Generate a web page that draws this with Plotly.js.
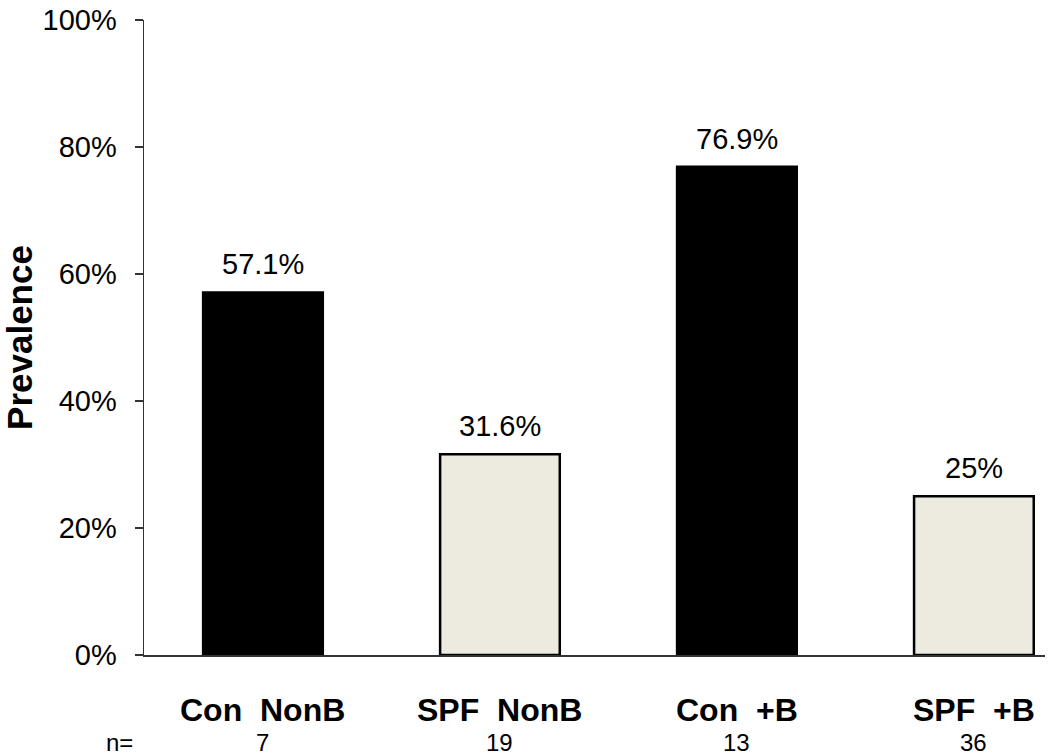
<!DOCTYPE html>
<html>
<head>
<meta charset="utf-8">
<script src="https://cdn.plot.ly/plotly-3.0.1.min.js"></script>
<style>html,body{margin:0;padding:0;background:#fff;}#chart{width:1050px;height:756px;}</style>
</head>
<body>
<div id="chart"></div>
<script>
var categories = ["Con  NonB", "SPF  NonB", "Con  +B", "SPF  +B"];
var prevalence = [57.1, 31.6, 76.9, 25];
var valueLabels = ["57.1%", "31.6%", "76.9%", "25%"];
var nValues = ["7", "19", "13", "36"];
var barColors = ["#000000", "#EDEBE0", "#000000", "#EDEBE0"];
var yTicks = [0, 20, 40, 60, 80, 100];

var FONT = "Liberation Sans, Arial, sans-serif";
var xIdx = categories.map(function(c, i){ return i; });

var trace = {
  type: "bar",
  x: xIdx,
  y: prevalence,
  width: 0.505,
  marker: {color: barColors, line: {color: "#000000", width: 2.5}},
  hoverinfo: "none",
  showlegend: false
};

var annotations = [];
xIdx.forEach(function(i){
  annotations.push({x: i, y: prevalence[i], xref: "x", yref: "y", text: valueLabels[i],
    showarrow: false, yanchor: "bottom", yshift: 10, font: {family: FONT, size: 29, color: "#000"}});
  annotations.push({x: i, y: 0, xref: "x", yref: "paper", text: "<b>" + categories[i] + "</b>",
    showarrow: false, yanchor: "top", yshift: -36, borderpad: 0, font: {family: FONT, size: 32, color: "#000"}});
  annotations.push({x: i, y: 0, xref: "x", yref: "paper", text: nValues[i],
    showarrow: false, yanchor: "top", yshift: -72.5, borderpad: 0, font: {family: FONT, size: 24, color: "#000"}});
});
annotations.push({x: -0.027, y: 0, xref: "paper", yref: "paper", text: "n=",
  showarrow: false, xanchor: "center", yanchor: "top", yshift: -72.5, borderpad: 0, font: {family: FONT, size: 24, color: "#000"}});

var layout = {
  width: 1050, height: 756,
  margin: {l: 144, r: 5, t: 20, b: 101},
  paper_bgcolor: "#fff", plot_bgcolor: "#fff",
  xaxis: {range: [-0.502, 3.30], showticklabels: false, ticks: "", showgrid: false, zeroline: false,
    showline: true, linecolor: "#333", linewidth: 1.5, fixedrange: true},
  yaxis: {range: [0, 100], tickvals: yTicks, ticktext: yTicks.map(function(v){return v + "%";}),
    ticks: "outside", ticklen: 8, tickwidth: 1.5, tickcolor: "#333", showgrid: false, zeroline: false,
    showline: true, linecolor: "#333", linewidth: 1.5, ticklabelstandoff: 12,
    tickfont: {family: FONT, size: 29, color: "#000"},
    title: {text: "<b>Prevalence</b>", font: {family: FONT, size: 35, color: "#000"}, standoff: 3}},
  annotations: annotations,
  font: {family: FONT}
};

Plotly.newPlot("chart", [trace], layout, {staticPlot: true, displayModeBar: false});
</script>
</body>
</html>
